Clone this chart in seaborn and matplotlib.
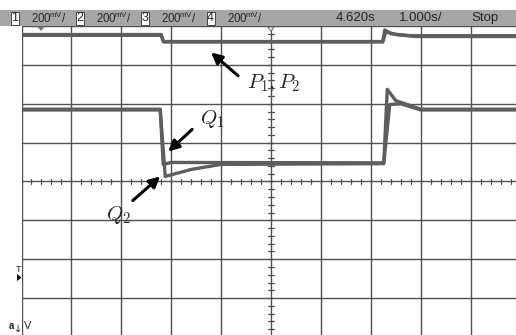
import numpy as np
import pandas as pd
import matplotlib
matplotlib.use('Agg')
import matplotlib.pyplot as plt
from matplotlib.patches import Rectangle, Polygon
import seaborn as sns

# scope traces, time in s (1 s/div), level in divisions from screen centre
t_p1 = [0.0, 2.80, 2.84, 7.24, 7.28, 7.40, 7.80, 9.95]
v_p1 = [3.78, 3.78, 3.60, 3.60, 3.90, 3.80, 3.75, 3.75]
t_p2 = [0.0, 2.80, 2.85, 7.24, 7.30, 7.50, 7.90, 9.95]
v_p2 = [3.76, 3.76, 3.59, 3.59, 3.86, 3.78, 3.73, 3.73]

t_q1 = [0.0, 2.78, 2.84, 3.00, 7.26, 7.33, 7.50, 7.80, 8.00, 9.95]
v_q1 = [1.86, 1.86, 0.44, 0.49, 0.48, 2.37, 2.08, 1.95, 1.86, 1.86]
t_q2 = [0.0, 2.78, 2.88, 3.40, 4.00, 7.26, 7.38, 7.60, 8.00, 9.95]
v_q2 = [1.84, 1.84, 0.13, 0.31, 0.44, 0.46, 1.98, 2.00, 1.84, 1.84]

channels = ['1', '2', '3', '4']
ch_scale = ['200', '200', '200', '200']
ch_x = [11, 76, 141, 207]
header_right = ['4.620s', '1.000s/', 'Stop']
header_right_x = [336, 399, 471]

sns.set_style('white')
plt.rcParams['font.family'] = ['Liberation Sans', 'DejaVu Sans']
plt.rcParams['mathtext.fontset'] = 'cm'

W, H = 516, 335
fig = plt.figure(figsize=(W / 100, H / 100), dpi=100)
ax = fig.add_axes([21.5 / W, (H - 337) / H, 499 / W, 311 / H])

grid_c = '#505050'
trace_c = '#5e5e5e'
for t, v in [(t_p1, v_p1), (t_p2, v_p2), (t_q1, v_q1), (t_q2, v_q2)]:
    df = pd.DataFrame({'t': t, 'v': v})
    sns.lineplot(data=df, x='t', y='v', ax=ax, color=trace_c, lw=2.4,
                 estimator=None, sort=False, zorder=3)

ax.set_xlim(0, 10)
ax.set_ylim(-4, 4)
ax.set_xticks(range(0, 11))
ax.set_yticks(range(-4, 5))
ax.grid(True, color=grid_c, lw=1)
ax.tick_params(length=0, labelbottom=False, labelleft=False)
ax.set_xlabel('')
ax.set_ylabel('')
for s in ax.spines.values():
    s.set_visible(False)

# centre graticule minor ticks
for xm in np.arange(0, 10.01, 0.2):
    ax.plot([xm, xm], [-0.07, 0.07], color=grid_c, lw=0.9, zorder=2)
for ym in np.arange(-4, 4.01, 0.2):
    ax.plot([4.94, 5.06], [ym, ym], color=grid_c, lw=0.9, zorder=2)

# annotations
akw = dict(arrowstyle='-|>', color='black', lw=2.2, mutation_scale=16,
           shrinkA=0, shrinkB=0)
ax.annotate('', xy=(3.80, 3.32), xytext=(4.34, 2.72), arrowprops=akw, zorder=5)
ax.text(4.52, 2.52, r'$P_1, P_2$', fontsize=15, ha='left', va='center')
ax.annotate('', xy=(2.94, 0.77), xytext=(3.42, 1.34), arrowprops=akw, zorder=5)
ax.text(3.58, 1.62, r'$Q_1$', fontsize=15, ha='left', va='center')
ax.annotate('', xy=(2.78, 0.13), xytext=(2.23, -0.49), arrowprops=akw, zorder=5)
ax.text(1.69, -0.85, r'$Q_2$', fontsize=15, ha='left', va='center')


def fy(y):
    return (H - y) / H


def fx(x):
    return x / W


# header bar
fig.patches.append(Rectangle((0, fy(25.5)), 1, (25.5 - 10.5) / H, transform=fig.transFigure,
                             facecolor='#a6a6a6', edgecolor='none', zorder=1))
for ch, sc, x in zip(channels, ch_scale, ch_x):
    fig.patches.append(Rectangle((fx(x - 0.5), fy(24.5)), 8 / W, 13 / H,
                                 transform=fig.transFigure, facecolor='white',
                                 edgecolor='#444444', lw=0.7, zorder=2))
    fig.text(fx(x + 3.5), fy(18), ch, fontsize=9, ha='center', va='center', zorder=3)
    fig.text(fx(x + 20), fy(18), sc + r'$\mathregular{^{\!mV}}$/', fontsize=8.3,
             ha='left', va='center', zorder=3)
for s, x in zip(header_right, header_right_x):
    fig.text(fx(x), fy(18), s, fontsize=9.5, ha='left', va='center', zorder=3)

# trigger markers
fig.patches.append(Polygon([(fx(37), fy(26.5)), (fx(45), fy(26.5)), (fx(41), fy(31))],
                           closed=True, transform=fig.transFigure, facecolor='#777777',
                           edgecolor='none', zorder=3))
fig.patches.append(Polygon([(fx(268), fy(27)), (fx(274), fy(27)), (fx(271), fy(31))],
                           closed=True, transform=fig.transFigure, facecolor='white',
                           edgecolor='#555555', lw=0.6, zorder=3))
fig.text(fx(18), fy(269), 'T', fontsize=6.5, ha='center', va='center')
fig.patches.append(Polygon([(fx(17), fy(274)), (fx(17), fy(281)), (fx(21.5), fy(277.5))],
                           closed=True, transform=fig.transFigure, facecolor='black',
                           edgecolor='none', zorder=3))
fig.text(fx(11), fy(326), 'a', fontsize=7, fontweight='bold', ha='center', va='center')
fig.text(fx(18), fy(329), '\u2193', fontsize=7, ha='center', va='center',
         family=['DejaVu Sans'])
fig.text(fx(27.5), fy(326), 'V', fontsize=8, ha='center', va='center')

fig.savefig('out.png', dpi=100)
